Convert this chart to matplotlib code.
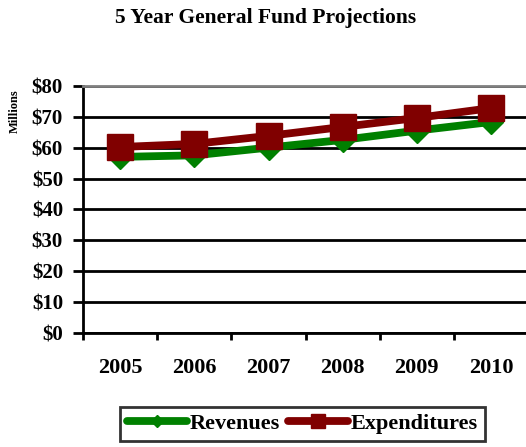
import matplotlib
matplotlib.use("Agg")
import matplotlib.pyplot as plt
from matplotlib.ticker import FixedLocator, NullFormatter

years = ["2005", "2006", "2007", "2008", "2009", "2010"]
revenues = [57.0, 57.5, 60.0, 62.5, 65.5, 68.3]
expenditures = [60.2, 61.2, 63.8, 66.7, 69.6, 72.8]
yticks = [0, 10, 20, 30, 40, 50, 60, 70, 80]
ytick_labels = ["$0", "$10", "$20", "$30", "$40", "$50", "$60", "$70", "$80"]

plt.rcParams['font.family'] = ['Liberation Serif', 'DejaVu Serif']

fig = plt.figure(figsize=(5.26, 4.47), dpi=100)
ax = fig.add_axes([0.158, 0.255, 0.846, 0.553])

x = list(range(len(years)))
ax.plot(x, revenues, color="#008000", lw=5.6, marker="D", markersize=12,
        label="Revenues", zorder=3)
ax.plot(x, expenditures, color="#800000", lw=5.6, marker="s", markersize=19,
        label="Expenditures", zorder=4)

ax.set_xlim(-0.5, len(years) - 0.5)
ax.set_ylim(0, 80)
ax.set_yticks(yticks)
ax.set_yticklabels(ytick_labels, fontsize=15, fontweight="bold")
ax.set_xticks(x)
ax.set_xticklabels(years, fontsize=16, fontweight="bold")
ax.tick_params(axis="x", which="major", length=0, pad=18)
ax.xaxis.set_minor_locator(FixedLocator([i - 0.5 for i in range(len(years) + 1)]))
ax.xaxis.set_minor_formatter(NullFormatter())
ax.tick_params(axis="x", which="minor", length=5, width=2, color="black", direction="out")
ax.tick_params(axis="y", length=7, width=2, color="black", direction="out", pad=7.5)

ax.yaxis.grid(True, color="black", lw=2)
ax.set_axisbelow(True)
for s in ["left", "bottom"]:
    ax.spines[s].set_linewidth(2)
    ax.spines[s].set_color("black")
ax.spines["top"].set_color("#808080")
ax.spines["top"].set_linewidth(2)
ax.spines["right"].set_visible(False)

fig.text(0.0285, 0.752, "Millions", rotation=90, fontsize=9, fontweight="bold",
         ha="center", va="center")
fig.text(0.505, 0.96, "5 Year General Fund Projections", fontsize=15.5,
         fontweight="bold", ha="center", va="center")

leg = fig.legend(loc="upper left", bbox_to_anchor=(0.228, 0.0895), ncol=2,
                 prop={"weight": "bold", "size": 16}, frameon=True, fancybox=False,
                 handlelength=2.7, columnspacing=0.4, handletextpad=0.12,
                 borderpad=0.3, markerscale=0.55, borderaxespad=0)
leg.get_frame().set_edgecolor("black")
leg.get_frame().set_linewidth(2)
for line in leg.get_lines():
    line.set_solid_capstyle("round")

fig.savefig("out.png", dpi=100)
